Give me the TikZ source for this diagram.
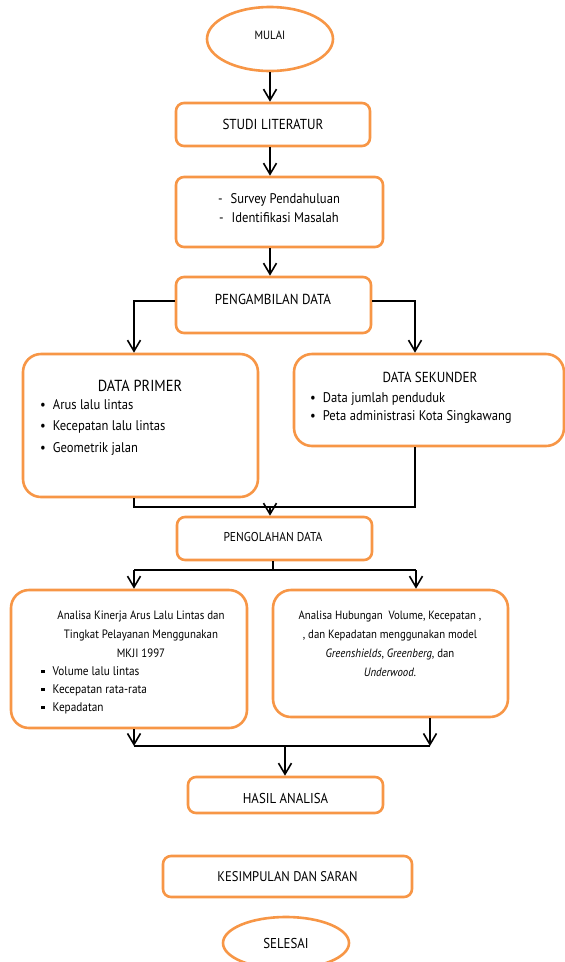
\documentclass[tikz,border=0pt]{standalone}
\usepackage{fontspec}
\setmainfont{PT Sans}[FakeStretch=0.9]
\usetikzlibrary{shapes.geometric,arrows.meta}
\definecolor{orng}{HTML}{F79646}
\newcommand{\fs}[2]{\fontsize{#1}{#2}\selectfont}
\begin{document}
\begin{tikzpicture}[x=1pt,y=-1pt,
  box/.style={draw=orng,line width=2.6pt,rounded corners=8pt,fill=white,inner sep=0pt,font=\fs{14}{16}},
  bigbox/.style={box,rounded corners=18pt},
  oval/.style={draw=orng,line width=2.6pt,ellipse,fill=white,inner sep=0pt,font=\fs{14}{16}},
  txt/.style={inner sep=0pt,font=\fs{14}{16}},
  ln/.style={line width=1.6pt,black},
  arr/.style={ln,-{Straight Barb[length=11pt,width=13pt,line width=1.6pt]}}]
\useasboundingbox (0,0) rectangle (565,962);

% boxes
\node[oval,minimum width=126pt,minimum height=64pt,font=\fs{12}{14}] (mulai) at (270,39) {};
\node[txt,font=\fs{12}{14}] (mulait) at (270,35) {MULAI};
\node[box,minimum width=194pt,minimum height=43pt,font=\fs{14.5}{16}] (studi) at (273,124.5) {STUDI LITERATUR};
\node[box,minimum width=207pt,minimum height=70pt] (survey) at (279.5,212) {};
\node[txt,align=center,font=\fs{14}{19}] (surveyt) at (279,208.5)
  {-\hspace{8pt}Survey Pendahuluan\\-\hspace{8pt}Identifikasi Masalah};
\node[box,minimum width=195pt,minimum height=56pt] (ambil) at (273.5,305) {};
\node[txt,font=\fs{14.5}{16}] (ambilt) at (273,299) {PENGAMBILAN DATA};

\node[bigbox,minimum width=235pt,minimum height=143pt] (primer) at (140.5,425.5) {};
\node[txt,font=\fs{16}{18}] (primert) at (140,386) {DATA PRIMER};
\node[txt,anchor=west,align=left,font=\fs{14}{21.5}] (primerl) at (40,427)
  {\textbullet\hspace{7pt}Arus lalu lintas\\\textbullet\hspace{7pt}Kecepatan lalu lintas\\\textbullet\hspace{7pt}Geometrik jalan};

\node[bigbox,minimum width=270pt,minimum height=92pt] (sekunder) at (429,400) {};
\node[txt,font=\fs{14.5}{16}] (sekundert) at (430,377) {DATA SEKUNDER};
\node[txt,anchor=west,align=left,font=\fs{14}{18}] (sekunderl) at (310,408)
  {\textbullet\hspace{7pt}Data jumlah penduduk\\\textbullet\hspace{7pt}Peta administrasi Kota Singkawang};

\node[box,minimum width=195pt,minimum height=43pt] (olah) at (274.5,538.5) {};
\node[txt,font=\fs{12.8}{14}] (olaht) at (273,537) {PENGOLAHAN DATA};

\node[bigbox,minimum width=236pt,minimum height=138pt] (kinerja) at (129,659) {};
\node[txt,align=center,font=\fs{12.1}{19}] (kinerjat) at (141,634)
  {Analisa Kinerja Arus Lalu Lintas dan\\Tingkat Pelayanan Menggunakan\\MKJI 1997};
\node[txt,anchor=west,align=left,font=\fs{12.5}{18}] (kinerjal) at (41,690)
  {\raisebox{2pt}{\rule{3.5pt}{3.5pt}}\hspace{8pt}Volume lalu lintas\\\raisebox{2pt}{\rule{3.5pt}{3.5pt}}\hspace{8pt}Kecepatan rata-rata\\\raisebox{2pt}{\rule{3.5pt}{3.5pt}}\hspace{8pt}Kepadatan};

\node[bigbox,minimum width=235pt,minimum height=127pt] (hubungan) at (390.5,653.5) {};
\node[txt,align=center,font=\fs{12}{19}] (hubungant) at (390,643.5)
  {Analisa Hubungan\ \ Volume, Kecepatan ,\\, dan Kepadatan menggunakan model\\\textit{Greenshields}, \textit{Greenberg}, dan\\\textit{Underwood.}};

\node[box,minimum width=195pt,minimum height=36pt] (hasil) at (285.5,795) {};
\node[txt,font=\fs{14.3}{16}] (hasilt) at (285.5,798) {HASIL ANALISA};
\node[box,minimum width=249pt,minimum height=41pt] (kesimpulan) at (287.5,876.5) {KESIMPULAN DAN SARAN};
\node[oval,minimum width=126pt,minimum height=52pt,font=\fs{14.3}{16}] (selesai) at (286,943) {SELESAI};

% connectors
\draw[arr] (mulai.south -| 270,0) -- (studi.north -| 270,0);
\draw[arr] (studi.south -| 270,0) -- (survey.north -| 270,0);
\draw[arr] (survey.south -| 270,0) -- (ambil.north -| 270,0);

\coordinate (jl) at (134,301);
\coordinate (jr) at (415,301);
\draw[arr] (ambil.west |- jl) -| (jl |- primer.north);
\draw[arr] (ambil.east |- jr) -| (jr |- sekunder.north);

\coordinate (ml) at (134,507);
\coordinate (mr) at (415,507);
\coordinate (mc) at (270,507);
\draw[ln] (ml |- primer.south) -- (ml) -- (mr) -- (mr |- sekunder.south);
\draw[arr] (mc) -- (mc |- olah.north);

\coordinate (sc) at (273,570);
\coordinate (sl) at (134,570);
\coordinate (sr) at (416,570);
\draw[ln] (sc |- olah.south) -- (sc);
\draw[ln] (sl) -- (sr);
\draw[arr] (sl) -- (sl |- kinerja.north);
\draw[arr] (sr) -- (sr |- hubungan.north);

\coordinate (bl) at (134,746);
\coordinate (br) at (430,746);
\coordinate (bc) at (285,746);
\draw[arr] (bl |- kinerja.south) -- (bl);
\draw[arr] (br |- hubungan.south) -- (br);
\draw[ln] (bl) -- (br);
\draw[arr] (bc) -- (bc |- hasil.north);
\end{tikzpicture}
\end{document}
